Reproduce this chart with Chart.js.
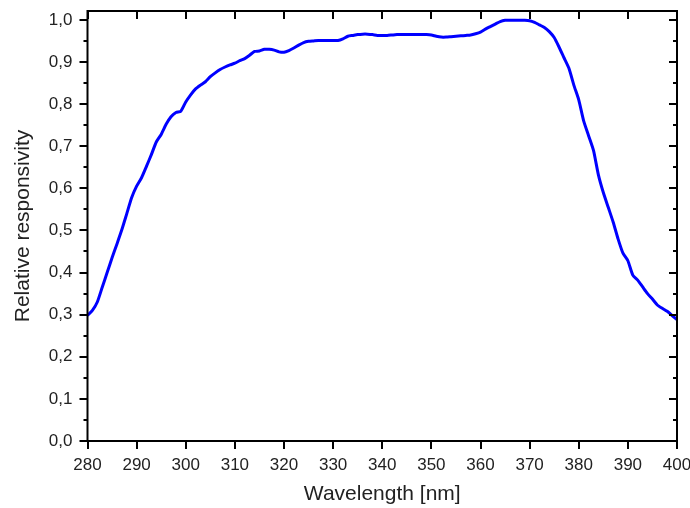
<!DOCTYPE html>
<html>
<head>
<meta charset="utf-8">
<title>Relative responsivity</title>
<script src="https://cdn.jsdelivr.net/npm/chart.js@4.4.0/dist/chart.umd.min.js"></script>
<style>
  html, body { margin: 0; padding: 0; background: #fff; }
  #wrap { width: 690px; height: 508px; }
</style>
</head>
<body>
<div id="wrap"><canvas id="respChart" width="690" height="508"></canvas></div>
<script>
// data (1 nm steps)
const wavelengths = [
  280, 281, 282, 283, 284, 285, 286, 287, 288, 289,
  290, 291, 292, 293, 294, 295, 296, 297, 298, 299,
  300, 301, 302, 303, 304, 305, 306, 307, 308, 309,
  310, 311, 312, 313, 314, 315, 316, 317, 318, 319,
  320, 321, 322, 323, 324, 325, 326, 327, 328, 329,
  330, 331, 332, 333, 334, 335, 336, 337, 338, 339,
  340, 341, 342, 343, 344, 345, 346, 347, 348, 349,
  350, 351, 352, 353, 354, 355, 356, 357, 358, 359,
  360, 361, 362, 363, 364, 365, 366, 367, 368, 369,
  370, 371, 372, 373, 374, 375, 376, 377, 378, 379,
  380, 381, 382, 383, 384, 385, 386, 387, 388, 389,
  390, 391, 392, 393, 394, 395, 396, 397, 398, 399,
  400
];
const responsivity = [
  0.298, 0.310, 0.330, 0.365, 0.400, 0.435, 0.468, 0.502, 0.540, 0.578,
  0.605, 0.625, 0.652, 0.680, 0.710, 0.728, 0.752, 0.770, 0.780, 0.783,
  0.805, 0.822, 0.836, 0.845, 0.853, 0.865, 0.874, 0.882, 0.888, 0.893,
  0.897, 0.903, 0.908, 0.916, 0.925, 0.926, 0.930, 0.930, 0.928, 0.924,
  0.923, 0.927, 0.933, 0.940, 0.946, 0.949, 0.950, 0.951, 0.951, 0.951,
  0.951, 0.951, 0.955, 0.961, 0.963, 0.965, 0.966, 0.966, 0.965, 0.963,
  0.963, 0.963, 0.964, 0.965, 0.965, 0.965, 0.965, 0.965, 0.965, 0.965,
  0.964, 0.961, 0.959, 0.959, 0.960, 0.961, 0.962, 0.963, 0.964, 0.967,
  0.971, 0.978, 0.984, 0.990, 0.996, 0.999, 0.999, 0.999, 0.999, 0.999,
  0.998, 0.994, 0.988, 0.982, 0.972, 0.958, 0.935, 0.910, 0.885, 0.845,
  0.810, 0.760, 0.725, 0.690, 0.632, 0.590, 0.555, 0.520, 0.480, 0.446,
  0.428, 0.394, 0.382, 0.366, 0.350, 0.337, 0.323, 0.315, 0.308, 0.298,
  0.288
];
const xTicks = [280, 290, 300, 310, 320, 330, 340, 350, 360, 370, 380, 390, 400];
const yTicks = [0, 0.1, 0.2, 0.3, 0.4, 0.5, 0.6, 0.7, 0.8, 0.9, 1.0];
const yMinorTicks = [0.05, 0.15, 0.25, 0.35, 0.45, 0.55, 0.65, 0.75, 0.85, 0.95];

const FONT = "'Liberation Sans', Arial, sans-serif";
const TEXT = '#222';

// box round the plot plus Origin-style tick marks
const frameTicks = {
  id: 'frameTicks',
  afterDatasetsDraw(chart) {
    const { ctx, chartArea: a, scales: { x, y } } = chart;
    ctx.save();
    ctx.strokeStyle = '#000';
    ctx.lineWidth = 2;
    ctx.strokeRect(a.left, a.top, a.right - a.left, a.bottom - a.top);
    ctx.beginPath();
    xTicks.forEach(v => {
      const px = Math.round(x.getPixelForValue(v));
      ctx.moveTo(px, a.bottom); ctx.lineTo(px, a.bottom + 8);
      ctx.moveTo(px, a.top); ctx.lineTo(px, a.top + 8);
    });
    yTicks.forEach(v => {
      const py = Math.round(y.getPixelForValue(v));
      ctx.moveTo(a.left, py); ctx.lineTo(a.left - 8, py);
      ctx.moveTo(a.right, py); ctx.lineTo(a.right - 8, py);
    });
    yMinorTicks.forEach(v => {
      const py = Math.round(y.getPixelForValue(v));
      ctx.moveTo(a.left, py); ctx.lineTo(a.left - 4, py);
      ctx.moveTo(a.right, py); ctx.lineTo(a.right - 4, py);
    });
    ctx.stroke();
    ctx.restore();
  }
};

const ctx = document.getElementById('respChart').getContext('2d');
new Chart(ctx, {
  type: 'line',
  data: {
    datasets: [{
      data: wavelengths.map((w, i) => ({ x: w, y: responsivity[i] })),
      borderColor: '#0000ff',
      borderWidth: 3,
      pointRadius: 0,
      tension: 0.2,
      fill: false
    }]
  },
  options: {
    responsive: false,
    animation: false,
    layout: { padding: { top: 11, right: 13, bottom: 0, left: 0 } },
    plugins: {
      legend: { display: false },
      tooltip: { enabled: false }
    },
    scales: {
      x: {
        type: 'linear',
        min: 280,
        max: 400,
        afterBuildTicks: scale => { scale.ticks = xTicks.map(v => ({ value: v })); },
        afterFit: scale => {
          scale.height = 67;
          scale.paddingLeft = 0;
          scale.paddingRight = 0;
        },
        grid: { display: false, drawTicks: false },
        border: { display: false },
        ticks: {
          color: TEXT,
          font: { family: FONT, size: 17 },
          padding: 14,
          maxRotation: 0,
          autoSkip: false
        },
        title: {
          display: true,
          text: 'Wavelength [nm]',
          color: TEXT,
          font: { family: FONT, size: 21 },
          padding: { top: 0, bottom: 1 }
        }
      },
      y: {
        min: 0,
        max: 1.021,
        afterBuildTicks: scale => { scale.ticks = yTicks.map(v => ({ value: v })); },
        afterFit: scale => {
          scale.width = 87.5;
          scale.paddingTop = 0;
          scale.paddingBottom = 0;
        },
        grid: { display: false, drawTicks: false },
        border: { display: false },
        ticks: {
          color: TEXT,
          font: { family: FONT, size: 17 },
          padding: 15,
          autoSkip: false,
          callback: v => v.toFixed(1).replace('.', ',')
        },
        title: {
          display: true,
          text: 'Relative responsivity',
          color: TEXT,
          font: { family: FONT, size: 21 },
          padding: { top: 11, bottom: 0 }
        }
      }
    }
  },
  plugins: [frameTicks]
});
</script>
</body>
</html>
